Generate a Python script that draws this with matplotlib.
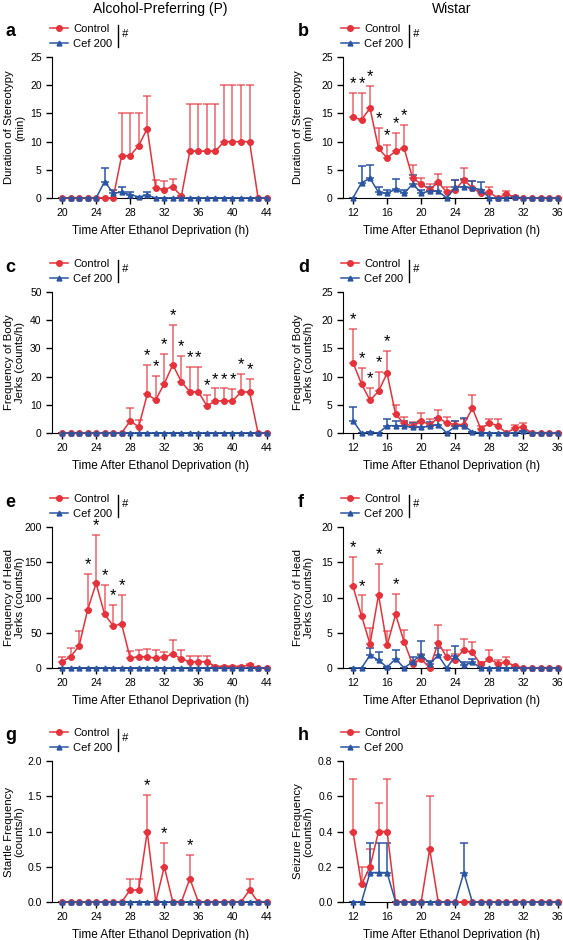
import numpy as np
import matplotlib
matplotlib.use("Agg")
import matplotlib.pyplot as plt
from matplotlib.lines import Line2D

plt.rcParams["font.family"] = ["Liberation Sans", "DejaVu Sans"]

RED, BLUE = "#e5323b", "#2b55a3"
W, H = 563, 940

hours_p = list(range(20, 45))
hours_w = list(range(12, 37))

# a: P stereotypy (min)
a_ctrl = [0, 0, 0, 0, 0, 0, 0, 7.5, 7.5, 9.3, 12.3, 1.8, 1.5, 2.0, 0.3, 8.3, 8.3, 8.3, 8.3, 10, 10, 10, 10, 0, 0]
a_ctrl_err = [0, 0, 0, 0, 0, 0, 0, 7.5, 7.5, 5.7, 5.7, 1.4, 1.5, 1.3, 0, 8.4, 8.4, 8.4, 8.4, 10, 10, 10, 10, 0, 0]
a_cef = [0, 0, 0, 0, 0, 2.9, 0.9, 1.0, 0.6, 0.2, 0.5, 0, 0, 0, 0, 0, 0, 0, 0, 0, 0, 0, 0, 0, 0]
a_cef_err = [0, 0, 0, 0, 0, 2.5, 0.6, 1.0, 0.4, 0, 0.5, 0, 0, 0, 0, 0, 0, 0, 0, 0, 0, 0, 0, 0, 0]
a_stars = []

# b: Wistar stereotypy (min)
b_ctrl = [14.3, 13.9, 15.9, 8.8, 7.1, 8.3, 8.8, 3.5, 2.5, 1.5, 2.8, 1.0, 1.5, 3.2, 1.8, 0.8, 1.0, 0, 0.7, 0.1, 0, 0, 0, 0, 0]
b_ctrl_err = [4.3, 4.7, 4.0, 3.7, 2.3, 3.2, 4.2, 2.4, 1.1, 1.0, 1.5, 1.0, 1.7, 2.2, 1.3, 0.7, 0.9, 0, 0.6, 0, 0, 0, 0, 0, 0]
b_cef = [0, 2.7, 3.5, 1.0, 0.8, 1.6, 0.8, 2.5, 0.9, 1.2, 1.2, 0, 1.9, 2.0, 1.8, 1.5, 0, 0, 0, 0.2, 0, 0, 0, 0, 0]
b_cef_err = [0, 2.9, 2.4, 0.9, 0.7, 1.7, 0.7, 1.5, 0.6, 0.8, 1.3, 0, 1.3, 1.4, 1.3, 1.4, 0, 0, 0, 0.2, 0, 0, 0, 0, 0]
b_stars = [12, 13, 14, 15, 16, 17, 18]

# c: P body jerks (counts/h)
c_ctrl = [0, 0, 0, 0, 0, 0, 0, 0, 4.3, 2.2, 13.7, 11.8, 17.5, 24.2, 18.2, 14.6, 14.6, 9.6, 11.4, 11.4, 11.3, 14.6, 14.5, 0, 0]
c_ctrl_err = [0, 0, 0, 0, 0, 0, 0, 0, 4.7, 2.3, 10.4, 8.5, 10.5, 14.0, 9.1, 8.8, 8.8, 3.9, 4.4, 4.4, 4.3, 6.4, 4.7, 0, 0]
c_cef = [0] * 25
c_cef_err = [0] * 25
c_stars = [30, 31, 32, 33, 34, 35, 36, 37, 38, 39, 40, 41, 42]

# d: Wistar body jerks (counts/h)
d_ctrl = [12.5, 8.7, 5.8, 7.4, 10.6, 3.3, 1.7, 1.2, 2.1, 1.5, 2.7, 1.8, 1.5, 1.5, 4.4, 0.7, 1.8, 1.3, 0, 0.9, 1.0, 0, 0, 0, 0]
d_ctrl_err = [6.0, 2.8, 2.2, 3.4, 4.0, 1.7, 1.2, 0.8, 1.4, 0.9, 1.3, 1.1, 0.7, 1.0, 2.3, 0.6, 0.7, 1.2, 0, 0.6, 0.7, 0, 0, 0, 0]
d_cef = [2.2, 0, 0.1, 0, 1.3, 1.3, 1.2, 1.0, 1.0, 1.2, 1.5, 0, 1.2, 1.3, 0.2, 0, 0, 0, 0, 0, 0.3, 0, 0, 0, 0]
d_cef_err = [2.4, 0, 0, 0, 1.1, 0.9, 0.9, 0.7, 1.0, 0.8, 1.2, 0, 1.0, 1.3, 0, 0, 0, 0, 0, 0, 0, 0, 0, 0, 0]
d_stars = [12, 13, 14, 15, 16]

# e: P head jerks (counts/h)
e_ctrl = [9, 16, 31, 82, 120, 76, 60, 62, 14, 16, 16, 14, 15, 20, 13, 9, 9, 9, 2, 2, 2, 2, 4, 0.5, 0]
e_ctrl_err = [7, 13, 22, 52, 69, 42, 30, 42, 10, 10, 11, 11, 8, 20, 12, 8, 8, 8, 1, 1, 1, 1, 1, 0, 0]
e_cef = [0.5] * 25
e_cef_err = [0] * 25
e_stars = [23, 24, 25, 26, 27]

# f: Wistar head jerks (counts/h)
f_ctrl = [11.6, 7.4, 3.4, 10.4, 3.2, 7.6, 3.7, 0.5, 1.3, 0, 3.6, 1.5, 1.2, 2.6, 2.2, 0.5, 1.3, 0.6, 0.8, 0.3, 0, 0, 0, 0, 0]
f_ctrl_err = [4.2, 2.9, 2.3, 4.4, 2.1, 2.9, 1.7, 0.5, 0.7, 0, 2.5, 1.1, 0.8, 1.5, 1.5, 0.3, 1.3, 0.6, 0.8, 0, 0, 0, 0, 0, 0]
f_cef = [0, 0, 1.8, 1.1, 0.1, 1.3, 0, 0.9, 1.9, 0.6, 1.8, 0, 1.7, 0.4, 0.8, 0, 0, 0, 0, 0, 0, 0, 0, 0, 0]
f_cef_err = [0, 0, 1.1, 1.2, 0, 1.3, 0, 0.7, 2.0, 0.4, 1.1, 0, 1.4, 0.5, 0.5, 0, 0, 0, 0, 0, 0, 0, 0, 0, 0]
f_stars = [12, 13, 15, 17]

# g: P startle (counts/h)
g_ctrl = [0, 0, 0, 0, 0, 0, 0, 0, 0.17, 0.17, 1.0, 0, 0.5, 0, 0, 0.33, 0, 0, 0, 0, 0, 0, 0.17, 0, 0]
g_ctrl_err = [0, 0, 0, 0, 0, 0, 0, 0, 0.16, 0.16, 0.52, 0, 0.34, 0, 0, 0.34, 0, 0, 0, 0, 0, 0, 0.16, 0, 0]
g_cef = [0] * 25
g_cef_err = [0] * 25
g_stars = [30, 32, 35]

# h: Wistar seizures (counts/h)
h_ctrl = [0.4, 0.1, 0.2, 0.4, 0.4, 0, 0, 0, 0, 0.3, 0, 0, 0, 0, 0, 0, 0, 0, 0, 0, 0, 0, 0, 0, 0]
h_ctrl_err = [0.3, 0.1, 0.1, 0.16, 0.3, 0, 0, 0, 0, 0.3, 0, 0, 0, 0, 0, 0, 0, 0, 0, 0, 0, 0, 0, 0, 0]
h_cef = [0, 0, 0.167, 0.167, 0.167, 0, 0, 0, 0, 0, 0, 0, 0, 0.167, 0, 0, 0, 0, 0, 0, 0, 0, 0, 0, 0]
h_cef_err = [0, 0, 0.167, 0.167, 0.167, 0, 0, 0, 0, 0, 0, 0, 0, 0.167, 0, 0, 0, 0, 0, 0, 0, 0, 0, 0, 0]
h_stars = []

panels = [
    ("a", 0, 0, hours_p, a_ctrl, a_ctrl_err, a_cef, a_cef_err, a_stars, 25, 5, "Duration of Stereotypy\n(min)", True),
    ("b", 1, 0, hours_w, b_ctrl, b_ctrl_err, b_cef, b_cef_err, b_stars, 25, 5, "Duration of Stereotypy\n(min)", True),
    ("c", 0, 1, hours_p, c_ctrl, c_ctrl_err, c_cef, c_cef_err, c_stars, 50, 10, "Frequency of Body\nJerks (counts/h)", True),
    ("d", 1, 1, hours_w, d_ctrl, d_ctrl_err, d_cef, d_cef_err, d_stars, 25, 5, "Frequency of Body\nJerks (counts/h)", True),
    ("e", 0, 2, hours_p, e_ctrl, e_ctrl_err, e_cef, e_cef_err, e_stars, 200, 50, "Frequency of Head\nJerks (counts/h)", True),
    ("f", 1, 2, hours_w, f_ctrl, f_ctrl_err, f_cef, f_cef_err, f_stars, 20, 5, "Frequency of Head\nJerks (counts/h)", True),
    ("g", 0, 3, hours_p, g_ctrl, g_ctrl_err, g_cef, g_cef_err, g_stars, 2.0, 0.5, "Startle Frequency\n(counts/h)", True),
    ("h", 1, 3, hours_w, h_ctrl, h_ctrl_err, h_cef, h_cef_err, h_stars, 0.8, 0.2, "Seizure Frequency\n(counts/h)", False),
]

fig = plt.figure(figsize=(W / 100, H / 100), dpi=100)
col_left = [52, 343]
row_top = [57, 292, 527, 761]
ax_w, ax_h = 218, 141

for letter, col, row, hrs, ctrl, ctrl_err, cef, cef_err, stars, ymax, ystep, ylabel, bracket in panels:
    x0, y0 = col_left[col], row_top[row]
    ax = fig.add_axes([x0 / W, 1 - (y0 + ax_h) / H, ax_w / W, ax_h / H])
    hrs = np.array(hrs)
    ctrl, ctrl_err = np.array(ctrl), np.array(ctrl_err)
    cef, cef_err = np.array(cef), np.array(cef_err)

    ax.errorbar(hrs, ctrl, yerr=[np.zeros_like(ctrl_err), ctrl_err], fmt="none",
                ecolor=RED, alpha=0.75, elinewidth=1.1, capsize=3, capthick=1.1, clip_on=False)
    ax.errorbar(hrs, cef, yerr=[np.zeros_like(cef_err), cef_err], fmt="none",
                ecolor=BLUE, elinewidth=1.1, capsize=3, capthick=1.1, clip_on=False)
    ax.plot(hrs, ctrl, "-o", color=RED, lw=1.1, ms=4, clip_on=False, zorder=3)
    ax.plot(hrs, cef, "-^", color=BLUE, lw=1.1, ms=3.5, clip_on=False, zorder=4)

    for s in stars:
        i = list(hrs).index(s)
        ax.annotate("*", (s, ctrl[i] + ctrl_err[i]), xytext=(0, 1.2), textcoords="offset points",
                    ha="center", va="bottom", fontsize=12, annotation_clip=False)

    start = hrs[0]
    ax.set_xlim(start - 1.17, start + 24.4)
    ax.set_xticks(np.arange(start, start + 25, 4))
    ax.set_ylim(0, ymax)
    ax.set_yticks(np.arange(0, ymax + ystep / 2, ystep))
    if ymax < 5:
        ax.set_yticklabels([f"{v:.1f}" for v in np.arange(0, ymax + ystep / 2, ystep)])
    ax.spines["top"].set_visible(False)
    ax.spines["right"].set_visible(False)
    ax.tick_params(labelsize=7.5, length=4, width=1, direction="out")
    ax.set_xlabel("Time After Ethanol Deprivation (h)", fontsize=8.5, labelpad=5)
    ax.set_ylabel(ylabel, fontsize=8.2, linespacing=1.1)
    ax.yaxis.set_label_coords(-0.125 if col == 0 else -0.135, 0.5)

    handles = [Line2D([], [], color=RED, marker="o", ms=4, lw=1.1),
               Line2D([], [], color=BLUE, marker="^", ms=3.5, lw=1.1)]
    ax.legend(handles, ["Control", "Cef 200"], loc="upper left", bbox_to_anchor=(-0.01, 1.235),
              frameon=False, fontsize=8, handlelength=1.6, handletextpad=0.5,
              labelspacing=0.45, borderpad=0, borderaxespad=0)
    if bracket:
        ax.plot([0.303, 0.303], [1.071, 1.227], color="black", lw=1, transform=ax.transAxes, clip_on=False)
        ax.text(0.318, 1.16, "#", transform=ax.transAxes, fontsize=8, style="italic", va="center")

    fig.text((5 if col == 0 else 298) / W, 1 - (y0 - 25) / H, letter, fontsize=13,
             fontweight="bold", va="center", ha="left")

fig.text(160 / W, 1 - 9 / H, "Alcohol-Preferring (P)", fontsize=10, ha="center", va="center")
fig.text(452 / W, 1 - 9 / H, "Wistar", fontsize=10, ha="center", va="center")

fig.savefig("out.png", dpi=100)
